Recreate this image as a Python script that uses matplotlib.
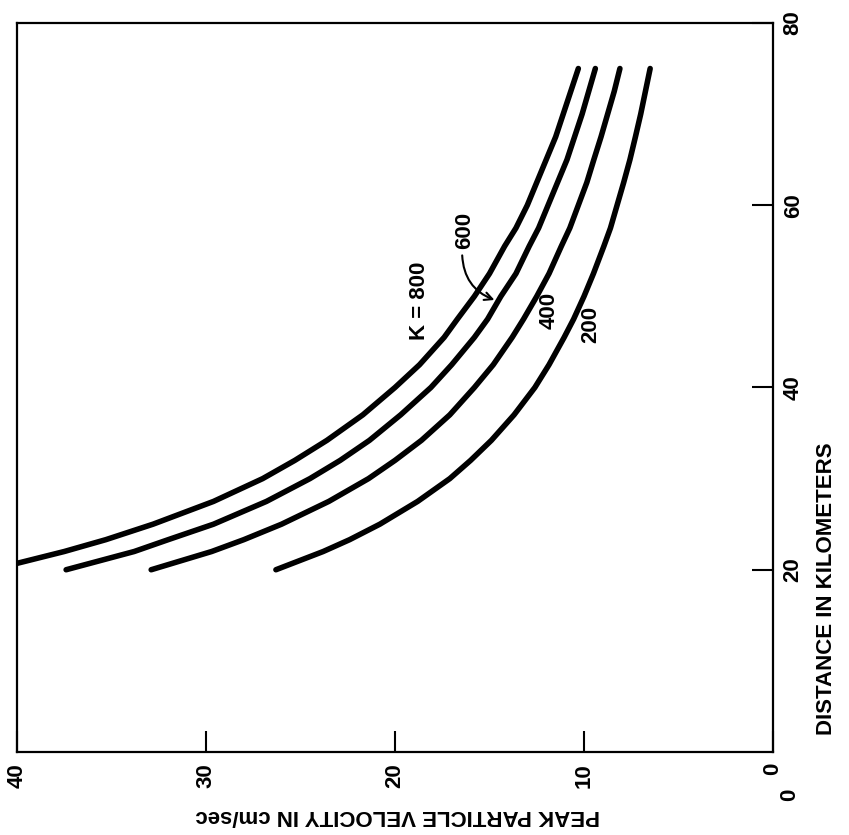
import numpy as np
import matplotlib
matplotlib.use('Agg')
import matplotlib.pyplot as plt

plt.rcParams['font.family'] = ['Liberation Sans', 'DejaVu Sans']
plt.rcParams['font.weight'] = 'bold'

dist_800 = [20.7, 22, 23.3, 25, 27.5, 30, 32, 34.2, 37, 40, 42.5, 45.5, 47.5, 50,
            52.5, 55.5, 57.5, 60, 62.5, 65, 67.5, 70, 72.5, 75]
vel_800 = [40.0, 37.5, 35.3, 32.8, 29.6, 27.0, 25.3, 23.6, 21.7, 20.0, 18.7, 17.4, 16.7, 15.8,
           15.0, 14.2, 13.6, 13.0, 12.5, 12.0, 11.5, 11.1, 10.7, 10.3]

dist = [20, 22, 23.3, 25, 27.5, 30, 32, 34.2, 37, 40, 42.5, 45.5, 47.5, 50,
        52.5, 55.5, 57.5, 60, 62.5, 65, 67.5, 70, 72.5, 75]
vel_600 = [37.4, 33.8, 32.0, 29.6, 26.8, 24.5, 22.9, 21.35, 19.7, 18.1, 17.0, 15.8, 15.1, 14.4,
           13.6, 12.9, 12.4, 11.9, 11.4, 10.9, 10.5, 10.1, 9.75, 9.4]
vel_400 = [32.9, 29.7, 28.0, 26.0, 23.5, 21.4, 20.0, 18.6, 17.1, 15.8, 14.8, 13.8, 13.2, 12.5,
           11.85, 11.2, 10.75, 10.3, 9.85, 9.48, 9.1, 8.75, 8.4, 8.1]
vel_200 = [26.3, 23.8, 22.4, 20.8, 18.8, 17.1, 16.0, 14.9, 13.7, 12.6, 11.85, 11.05, 10.55, 10.0,
           9.5, 8.95, 8.6, 8.25, 7.9, 7.57, 7.28, 7.0, 6.75, 6.5]

vel_ticks = [40, 30, 20, 10, 0]
dist_ticks = [20, 40, 60, 80]

fig = plt.figure(figsize=(8.49, 8.35), dpi=100)
ax = fig.add_axes([0.020, 0.0994, 0.8905, 0.8731])

# The page is turned: velocity runs along the bottom (40 -> 0), distance up the right side.
for d, v in [(dist_800, vel_800), (dist, vel_600), (dist, vel_400), (dist, vel_200)]:
    ax.plot(v, d, color='black', linewidth=4.0, solid_capstyle='round', solid_joinstyle='round')

ax.set_xlim(40, 0)
ax.set_ylim(0, 80)

ax.set_xticks(vel_ticks)
ax.set_xticklabels([str(t) for t in vel_ticks], rotation=90, fontsize=16, fontweight='bold')
ax.set_yticks(dist_ticks)
ax.set_yticklabels([str(t) for t in dist_ticks], rotation=90, fontsize=16, fontweight='bold',
                   va='center')
ax.yaxis.tick_right()
ax.tick_params(axis='both', direction='in', length=15, width=1.5)
ax.tick_params(axis='x', pad=8)
ax.tick_params(axis='y', pad=7)
for s in ax.spines.values():
    s.set_linewidth(1.6)

# curve labels
lab = dict(rotation=90, fontsize=16, fontweight='bold', ha='center', va='center')
ax.text(18.68, 49.5, 'K = 800', **lab)
ax.text(16.3, 57.2, '600', **lab)
ax.text(11.85, 48.5, '400', **lab)
ax.text(9.63, 46.9, '200', **lab)
ax.annotate('', xy=(14.6, 49.5), xytext=(16.45, 54.8),
            arrowprops=dict(arrowstyle='->', color='black', lw=1.5,
                            connectionstyle='arc3,rad=0.35', mutation_scale=14))

fig.text(790 / 849, 1 - 795 / 835, '0', rotation=90, fontsize=16, fontweight='bold',
         ha='center', va='center')
fig.text(398 / 849, 1 - 815 / 835, 'PEAK PARTICLE VELOCITY IN cm/sec', rotation=180,
         fontsize=16, fontweight='bold', ha='center', va='center')
fig.text(826 / 849, 1 - 589 / 835, 'DISTANCE IN KILOMETERS', rotation=90,
         fontsize=16, fontweight='bold', ha='center', va='center')

fig.savefig('out.png', dpi=100)
